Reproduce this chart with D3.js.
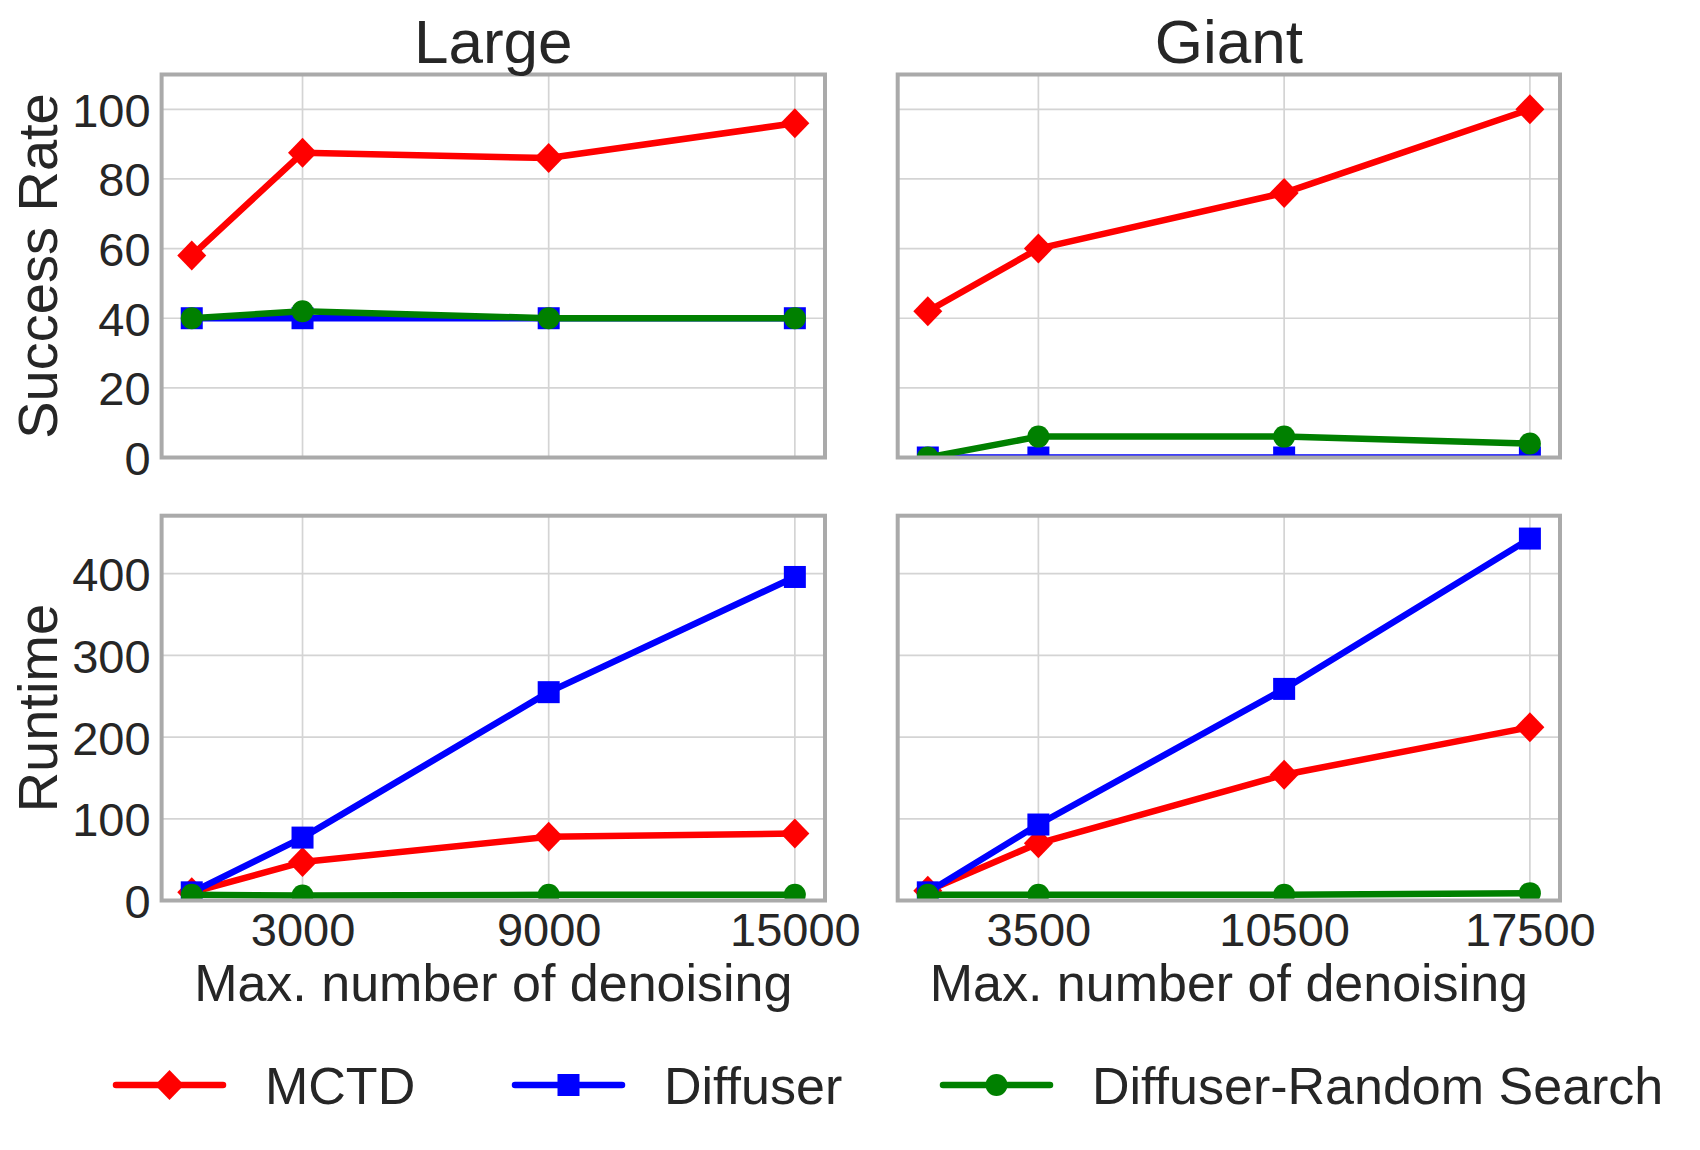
<!DOCTYPE html>
<html><head><meta charset="utf-8">
<script src="https://cdn.jsdelivr.net/npm/d3@7"></script>
<style>
body{margin:0;background:#fff}
text{font-family:"Liberation Sans",Arial,Helvetica,sans-serif;fill:#262626}
</style>
</head><body>
<svg id="chart" width="1700" height="1150"></svg>
<script>
// ---- data ----
const seriesNames = ["MCTD", "Diffuser", "Diffuser-Random Search"];
const seriesColors = ["#ff0000", "#0000ff", "#008000"];
const seriesMarkers = ["diamond", "square", "circle"];

const xLarge = [300, 3000, 9000, 15000];
const xGiant = [350, 3500, 10500, 17500];
const xTicksLarge = [3000, 9000, 15000];
const xTicksGiant = [3500, 10500, 17500];

const successLargeMCTD = [58, 87.5, 86, 96];
const successLargeDiffuser = [40, 40, 40, 40];
const successLargeRandom = [40, 42, 40, 40];
const successGiantMCTD = [42, 60, 76, 100];
const successGiantDiffuser = [0, 0, 0, 0];
const successGiantRandom = [0, 6, 6, 4];

const runtimeLargeMCTD = [10, 47, 78, 82];
const runtimeLargeDiffuser = [10, 77, 255, 396];
const runtimeLargeRandom = [7, 6, 7, 7];
const runtimeGiantMCTD = [12, 70, 154, 212];
const runtimeGiantDiffuser = [10, 93, 259, 443];
const runtimeGiantRandom = [7, 7, 7, 9];

const successTicks = [0, 20, 40, 60, 80, 100];
const runtimeTicks = [0, 100, 200, 300, 400];
const successDomain = [0, 110];
const runtimeDomain = [0, 471];

const columnTitles = ["Large", "Giant"];
const rowLabels = ["Success Rate", "Runtime"];
const xLabel = "Max. number of denoising";

// ---- layout ----
const svg = d3.select("#chart");
const colX = [[161.6, 825], [897.7, 1560]];
const rowY = [[74.5, 457.5], [515.7, 900.5]];

const panels = [
  {r:0,c:0,xs:xLarge,xt:xTicksLarge,ys:[successLargeMCTD,successLargeDiffuser,successLargeRandom],yt:successTicks,yd:successDomain},
  {r:0,c:1,xs:xGiant,xt:xTicksGiant,ys:[successGiantMCTD,successGiantDiffuser,successGiantRandom],yt:successTicks,yd:successDomain},
  {r:1,c:0,xs:xLarge,xt:xTicksLarge,ys:[runtimeLargeMCTD,runtimeLargeDiffuser,runtimeLargeRandom],yt:runtimeTicks,yd:runtimeDomain},
  {r:1,c:1,xs:xGiant,xt:xTicksGiant,ys:[runtimeGiantMCTD,runtimeGiantDiffuser,runtimeGiantRandom],yt:runtimeTicks,yd:runtimeDomain}
];

function drawMarker(g, type, color, x, y) {
  if (type === "diamond") {
    g.append("path").attr("d", `M${x},${y-15}L${x+14.5},${y}L${x},${y+15}L${x-14.5},${y}Z`).attr("fill", color);
  } else if (type === "square") {
    g.append("rect").attr("x", x-11).attr("y", y-11).attr("width", 22).attr("height", 22).attr("fill", color);
  } else {
    g.append("circle").attr("cx", x).attr("cy", y).attr("r", 11).attr("fill", color);
  }
}

const defs = svg.append("defs");

panels.forEach(p => {
  const [x0, x1] = colX[p.c];
  const [y0, y1] = rowY[p.r];
  const lo = d3.min(p.xs), hi = d3.max(p.xs), pad = 0.05 * (hi - lo);
  const x = d3.scaleLinear().domain([lo - pad, hi + pad]).range([x0, x1]);
  const y = d3.scaleLinear().domain(p.yd).range([y1, y0]);
  const g = svg.append("g");

  const clip = "clip" + p.r + p.c;
  defs.append("clipPath").attr("id", clip).append("rect")
    .attr("x", x0).attr("y", y0).attr("width", x1 - x0).attr("height", y1 - y0);

  // grid
  const grid = g.append("g");
  grid.selectAll(".gx").data(p.xt).enter().append("line")
    .attr("x1", d => x(d)).attr("x2", d => x(d)).attr("y1", y0).attr("y2", y1)
    .attr("stroke", "#d4d4d4").attr("stroke-width", 1.7);
  grid.selectAll(".gy").data(p.yt).enter().append("line")
    .attr("x1", x0).attr("x2", x1).attr("y1", d => y(d)).attr("y2", d => y(d))
    .attr("stroke", "#d4d4d4").attr("stroke-width", 1.7);

  // series
  const dataG = g.append("g").attr("clip-path", `url(#${clip})`);
  p.ys.forEach((vals, i) => {
    const pts = vals.map((v, k) => [x(p.xs[k]), y(v)]);
    dataG.append("path").attr("d", d3.line()(pts)).attr("fill", "none")
      .attr("stroke", seriesColors[i]).attr("stroke-width", 6.5)
      .attr("stroke-linejoin", "round").attr("stroke-linecap", "round");
    pts.forEach(pt => drawMarker(dataG, seriesMarkers[i], seriesColors[i], pt[0], pt[1]));
  });

  // frame
  g.append("rect").attr("x", x0).attr("y", y0).attr("width", x1 - x0).attr("height", y1 - y0)
    .attr("fill", "none").attr("stroke", "#aaaaaa").attr("stroke-width", 4);

  // y ticks (left column only)
  if (p.c === 0) {
    const ya = g.append("g").attr("transform", `translate(${x0},0)`)
      .call(d3.axisLeft(y).tickValues(p.yt).tickSize(0).tickPadding(11).tickFormat(d3.format("d")));
    ya.select(".domain").remove();
    ya.selectAll("text").style("font-size", "47px").attr("fill", "#262626").attr("dy", "0.36em");
    svg.append("text").attr("transform", `translate(57,${(y0 + y1) / 2}) rotate(-90)`)
      .attr("text-anchor", "middle").style("font-size", "56px").text(rowLabels[p.r]);
  }
  // x ticks (bottom row only)
  if (p.r === 1) {
    const xa = g.append("g").attr("transform", `translate(0,${y1})`)
      .call(d3.axisBottom(x).tickValues(p.xt).tickSize(0).tickPadding(12).tickFormat(d3.format("d")));
    xa.select(".domain").remove();
    xa.selectAll("text").style("font-size", "47px").attr("fill", "#262626").attr("dy", "0.71em");
    svg.append("text").attr("x", (x0 + x1) / 2).attr("y", 1001)
      .attr("text-anchor", "middle").style("font-size", "52px").text(xLabel);
  }
  if (p.r === 0) {
    svg.append("text").attr("x", (x0 + x1) / 2).attr("y", 63)
      .attr("text-anchor", "middle").style("font-size", "62px").text(columnTitles[p.c]);
  }
});

// ---- legend ----
const legendLineX = [116, 515, 943];
const legendG = svg.append("g");
seriesNames.forEach((name, i) => {
  const lx = legendLineX[i], ly = 1085;
  legendG.append("line").attr("x1", lx).attr("x2", lx + 107).attr("y1", ly).attr("y2", ly)
    .attr("stroke", seriesColors[i]).attr("stroke-width", 6.5).attr("stroke-linecap", "round");
  drawMarker(legendG, seriesMarkers[i], seriesColors[i], lx + 53.5, ly);
  legendG.append("text").attr("x", lx + 149).attr("y", ly + 19).style("font-size", "52px").text(name);
});
</script>
</body></html>
